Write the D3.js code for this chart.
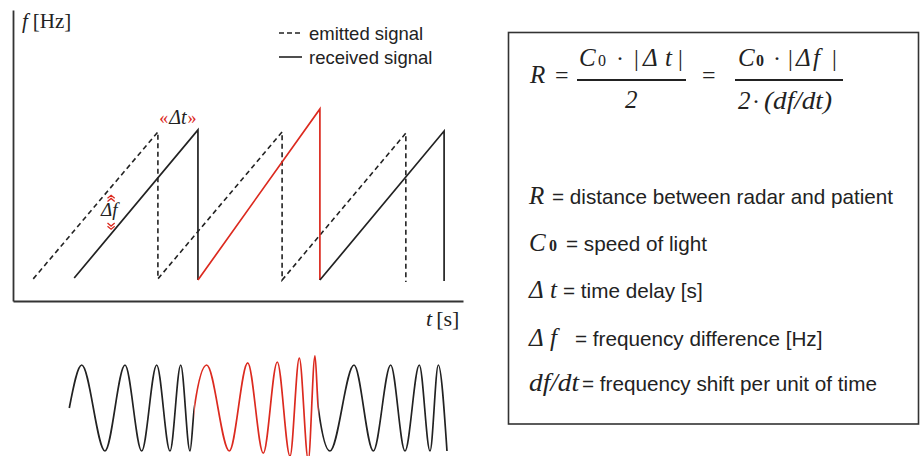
<!DOCTYPE html>
<html>
<head>
<meta charset="utf-8">
<script src="https://cdn.jsdelivr.net/npm/d3@7"></script>
<style>
  body { margin: 0; background: #fff; }
  svg { display: block; }
</style>
</head>
<body>
<svg id="chart" width="920" height="456"></svg>
<script>
const RED = "#dc2a1f", INK = "#222";
const SERIF = "'Liberation Serif','Times New Roman',serif";
const SANS = "'Liberation Sans',Arial,Helvetica,sans-serif";

// sawtooth corners, t and f in arbitrary units (0-100 along each axis)
const emittedT = [4.5, 32.2, 32.2, 59.8, 59.8, 87.3, 87.3];
const emittedF = [7.6, 58.1, 7.6, 58.1, 7.2, 57.7, 6.5];
const receivedT = [13.6, 41.1, 41.1, 68.2, 68.2, 95.8, 95.8];
const receivedF = [7.9, 58.8, 7.2, 66.0, 7.2, 58.4, 6.9];
const redRamp = [2, 4]; // received points 2..4 are drawn red

// chirp waveform: extrema (same t units, amplitude 1 = normal peak)
const waveT = [12.51, 15.27, 20.44, 24.89, 28.6, 31.93, 34.89, 37.27, 39.33, 40.29,
               43.04, 48.07, 52.16, 55.62, 58.73, 61.56, 63.62, 65.62, 67.11, 67.84,
               70.44, 75.78, 80.07, 83.93, 87.11, 90.29, 92.67, 94.51, 96.44];
const waveA = [0, 1, -1, 1, -1, 1, -1, 1, -1, 0,
               1, -1, 1.05, -1.05, 1.07, -1.12, 1.16, -1.21, 1.21, 0,
               -1, 1, -1, 1, -1, 1, -1, 1, -1];
const waveRed = [40.29, 67.84];

const legendLabels = ["emitted signal", "received signal"];
const defTexts = ["distance between radar and patient", "speed of light", "time delay [s]",
                  "frequency difference [Hz]", "frequency shift per unit of time"];

const svg = d3.select("#chart");

const x = d3.scaleLinear([0, 100], [13, 463]);
const y = d3.scaleLinear([0, 100], [301, 10]);
const wy = d3.scaleLinear([-1, 1], [451, 365]);

function txt(g, px, py, s, o = {}) {
  return g.append("text")
    .attr("x", px).attr("y", py).text(s)
    .attr("font-family", o.sans ? SANS : SERIF)
    .attr("font-size", o.size || 24)
    .attr("font-style", o.it ? "italic" : null)
    .attr("font-weight", o.b ? "bold" : null)
    .attr("fill", o.fill || INK);
}

// ---- axes (no ticks, just the two lines)
const axes = svg.append("g").attr("color", "#333");
axes.append("g").attr("transform", `translate(${x(0)},0)`)
  .call(d3.axisLeft(y).tickValues([]).tickSizeOuter(0))
  .select(".domain").attr("stroke-width", 1.8);
axes.append("g").attr("transform", `translate(0,${y(0)})`)
  .call(d3.axisBottom(x).tickValues([]).tickSizeOuter(0))
  .select(".domain").attr("stroke-width", 1.8);

const fLab = svg.append("text").attr("x", 22).attr("y", 28)
  .attr("font-family", SERIF).attr("font-size", 21).attr("fill", INK);
fLab.append("tspan").attr("font-style", "italic").text("f");
fLab.append("tspan").attr("dx", 5).text("[Hz]");
const tLab = svg.append("text").attr("x", 426).attr("y", 326)
  .attr("font-family", SERIF).attr("font-size", 22).attr("fill", INK);
tLab.append("tspan").attr("font-style", "italic").text("t");
tLab.append("tspan").attr("dx", 4).text("[s]");

// ---- sawtooth lines
const line = d3.line().x(d => x(d[0])).y(d => y(d[1]));
const emitted = d3.zip(emittedT, emittedF);
const received = d3.zip(receivedT, receivedF);

svg.append("path").datum(emitted).attr("d", line)
  .attr("fill", "none").attr("stroke", INK).attr("stroke-width", 1.6)
  .attr("stroke-dasharray", "5,3.5");

const pieces = [
  {pts: received.slice(0, redRamp[0] + 1), color: INK},
  {pts: received.slice(redRamp[0], redRamp[1] + 1), color: RED},
  {pts: received.slice(redRamp[1]), color: INK}
];
svg.append("g").selectAll("path").data(pieces).join("path")
  .attr("d", d => line(d.pts))
  .attr("fill", "none").attr("stroke", d => d.color).attr("stroke-width", 1.7)
  .attr("stroke-linejoin", "miter");

// ---- legend
const leg = svg.append("g");
legendLabels.forEach((s, i) => {
  const ly = 33 + i * 24;
  leg.append("line").attr("x1", 279).attr("x2", 302).attr("y1", ly).attr("y2", ly)
    .attr("stroke", INK).attr("stroke-width", 1.6)
    .attr("stroke-dasharray", i === 0 ? "5,3" : null);
  txt(leg, 309, ly + 7, s, {sans: true, size: 18.5});
});

// ---- Δt and Δf annotations
const dtX = x((emittedT[1] + receivedT[1]) / 2), dtY = y(receivedF[1]) - 6;
const dt = svg.append("text").attr("x", dtX).attr("y", dtY).attr("text-anchor", "middle")
  .attr("font-family", SERIF).attr("font-size", 20);
dt.append("tspan").attr("fill", RED).attr("font-size", 18).text("«");
dt.append("tspan").attr("fill", INK).attr("font-style", "italic").attr("dx", 1).text("Δt");
dt.append("tspan").attr("fill", RED).attr("font-size", 18).attr("dx", 1).text("»");

const dfX = x(21.8), dfY = y(30.5);
txt(svg, dfX - 10, dfY + 4, "Δf", {it: true, size: 19});
function chevrons(cx, cy, dir) {
  const p = d3.path();
  [0, 3.2].forEach(o => {
    const yy = cy + dir * o;
    p.moveTo(cx - 3.6, yy + dir * 3);
    p.lineTo(cx, yy);
    p.lineTo(cx + 3.6, yy + dir * 3);
  });
  svg.append("path").attr("d", p.toString()).attr("fill", "none")
    .attr("stroke", RED).attr("stroke-width", 1.3);
}
chevrons(dfX, dfY - 17, 1);
chevrons(dfX, dfY + 17, -1);

// ---- chirp waveform
const waveLine = d3.line().x(d => x(d[0])).y(d => wy(d[1])).curve(d3.curveMonotoneX);
const wave = d3.zip(waveT, waveA);
const defs = svg.append("defs");
const r0 = x(waveRed[0]), r1 = x(waveRed[1]);
defs.append("clipPath").attr("id", "clipRed")
  .append("rect").attr("x", r0).attr("y", 330).attr("width", r1 - r0).attr("height", 130);
defs.append("clipPath").attr("id", "clipBlack")
  .append("path").attr("d", `M0,330H${r0}V460H0Z M${r1},330H470V460H${r1}Z`);
svg.append("path").datum(wave).attr("d", waveLine).attr("clip-path", "url(#clipBlack)")
  .attr("fill", "none").attr("stroke", INK).attr("stroke-width", 1.7);
svg.append("path").datum(wave).attr("d", waveLine).attr("clip-path", "url(#clipRed)")
  .attr("fill", "none").attr("stroke", RED).attr("stroke-width", 1.7);

// ---- formula box
const box = svg.append("g");
box.append("rect").attr("x", 508.5).attr("y", 32.5).attr("width", 410).attr("height", 391.5)
  .attr("fill", "none").attr("stroke", "#333").attr("stroke-width", 1.6);

txt(box, 530, 83, "R", {it: true, size: 25});
txt(box, 555, 83, "=");
box.append("line").attr("x1", 577).attr("x2", 686).attr("y1", 80).attr("y2", 80)
  .attr("stroke", INK).attr("stroke-width", 2.2);
txt(box, 579, 66, "C", {it: true, size: 25});
txt(box, 598, 66, "0", {size: 16});
txt(box, 616, 66, "·");
txt(box, 634, 66, "|");
txt(box, 643, 66, "Δ", {it: true, size: 25});
txt(box, 665, 66, "t", {it: true, size: 25});
txt(box, 678, 66, "|");
txt(box, 625, 108, "2", {it: true, size: 25});

txt(box, 702, 83, "=");
box.append("line").attr("x1", 735).attr("x2", 843).attr("y1", 80).attr("y2", 80)
  .attr("stroke", INK).attr("stroke-width", 2.2);
txt(box, 738, 66, "C", {it: true, size: 25});
txt(box, 756, 66, "0", {size: 16, b: true});
txt(box, 773, 66, "·");
txt(box, 788, 66, "|");
txt(box, 796, 66, "Δ", {it: true, size: 25});
txt(box, 813, 66, "f", {it: true, size: 25});
txt(box, 832, 66, "|");
txt(box, 738, 109, "2", {it: true, size: 25});
txt(box, 752, 109, "·");
txt(box, 764, 109, "(df/dt)", {it: true, size: 25})
  .attr("textLength", 68).attr("lengthAdjust", "spacingAndGlyphs");

// ---- definitions
const rowY = [204, 251, 298, 346, 391];
const eqX = [552, 566, 563, 575, 582];
txt(box, 529, rowY[0], "R", {it: true, size: 25});
txt(box, 529, rowY[1], "C", {it: true, size: 25});
txt(box, 549, rowY[1], "0", {size: 16, b: true});
txt(box, 529, rowY[2], "Δ", {it: true, size: 25});
txt(box, 550, rowY[2], "t", {it: true, size: 25});
txt(box, 529, rowY[3], "Δ", {it: true, size: 25});
txt(box, 550, rowY[3], "f", {it: true, size: 25});
txt(box, 529, rowY[4], "df/dt", {it: true, size: 25})
  .attr("textLength", 50).attr("lengthAdjust", "spacingAndGlyphs");
defTexts.forEach((s, i) => txt(box, eqX[i], rowY[i], "= " + s, {sans: true, size: 20.7}));
</script>
</body>
</html>
